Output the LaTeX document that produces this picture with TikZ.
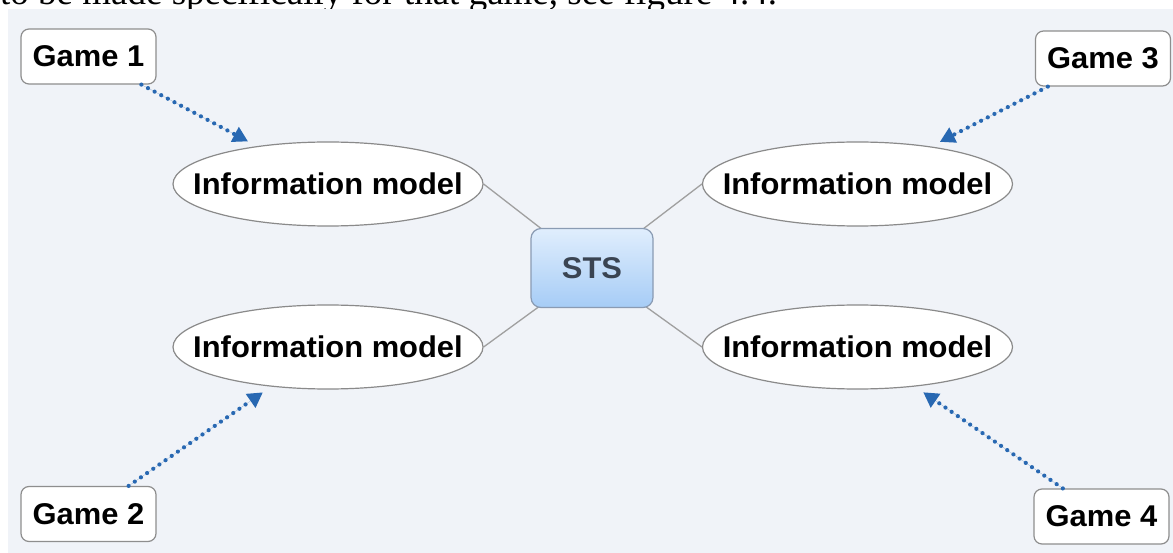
\documentclass[tikz,border=0pt]{standalone}
\usepackage{fontspec}
\setmainfont{Liberation Serif}
\newfontfamily\labelfont{Liberation Sans}[FakeStretch=1.03]
\usetikzlibrary{arrows.meta,shapes.geometric}

\definecolor{panelbg}{RGB}{240,243,248}
\definecolor{boxgray}{RGB}{142,142,142}
\definecolor{ellgray}{RGB}{138,138,138}
\definecolor{linkgray}{RGB}{160,160,160}
\definecolor{feedblue}{RGB}{40,104,178}
\definecolor{ststop}{RGB}{224,238,253}
\definecolor{stsbottom}{RGB}{166,204,246}
\definecolor{stsborder}{RGB}{138,155,179}
\definecolor{ststext}{RGB}{58,68,82}

\pgfdeclarelayer{panel}
\pgfdeclarelayer{links}
\pgfsetlayers{panel,links,main}

\tikzset{
  labeltext/.style={font=\labelfont\bfseries\fontsize{30}{36}\selectfont, text=black},
  gamebox/.style={draw=boxgray, line width=1.2pt, fill=white, rounded corners=8pt,
    minimum width=135pt, minimum height=55pt, inner sep=0pt, labeltext},
  infomodel/.style={ellipse, draw=ellgray, line width=1.2pt, fill=white,
    minimum width=310pt, minimum height=84pt, inner sep=0pt},
  infolabel/.style={labeltext, inner sep=0pt},
  hubbox/.style={draw=stsborder, line width=1.2pt, rounded corners=10pt,
    top color=ststop, bottom color=stsbottom,
    minimum width=122pt, minimum height=79pt, inner sep=0pt,
    font=\labelfont\bfseries\fontsize{30}{36}\selectfont, text=ststext},
  hublink/.style={draw=linkgray, line width=1.3pt},
  feed/.style={draw=feedblue, line width=4.2pt, line cap=round,
    dash pattern=on 0pt off 7.5pt, shorten >=10pt,
    -{Triangle[length=15pt,width=16pt]}, fill=feedblue}
}

\begin{document}
\begin{tikzpicture}[x=1pt,y=-1pt]
\useasboundingbox (0,0) rectangle (1173,553);
\clip (0,0) rectangle (1173,553);

% page, running text line above the figure, and the figure panel
\begin{pgfonlayer}{panel}
  \fill[white] (0,0) rectangle (1173,553);
  \node[anchor=base west, inner sep=0pt, font=\fontsize{37}{44}\selectfont] (bodyline) at (0,4.5)
    {to be made specifically for that game, see figure 4.4.};
  \fill[panelbg] (8,9) rectangle (1173,553);
\end{pgfonlayer}

% central system
\node[hubbox] (sts) at (592,268) {STS};

% information models
\node[infomodel, label={[infolabel]center:Information model}] (e1) at (328,184) {};
\node[infomodel, label={[infolabel]center:Information model}] (e2) at (328,347) {};
\node[infomodel, label={[infolabel]center:Information model}] (e3) at (857.5,184) {};
\node[infomodel, label={[infolabel]center:Information model}] (e4) at (857.5,347) {};

% games
\node[gamebox] (g1) at (88.5,56.5) {Game 1};
\node[gamebox] (g2) at (88.5,514) {Game 2};
\node[gamebox] (g3) at (1103,58.5) {Game 3};
\node[gamebox] (g4) at (1101.5,516.5) {Game 4};

% links between the models and the system
\begin{pgfonlayer}{links}
  \draw[hublink] (e1.east) -- (sts.center);
  \draw[hublink] (e2.east) -- (sts.center);
  \draw[hublink] (e3.west) -- (sts.center);
  \draw[hublink] (e4.west) -- (sts.center);
\end{pgfonlayer}

% each game feeds its own information model
\draw[feed] (g1.-28) -- (e1);
\draw[feed] (g2.35) -- (e2);
\draw[feed] (g3.207) -- (e3);
\draw[feed] (g4.144) -- (e4);
\end{tikzpicture}
\end{document}
